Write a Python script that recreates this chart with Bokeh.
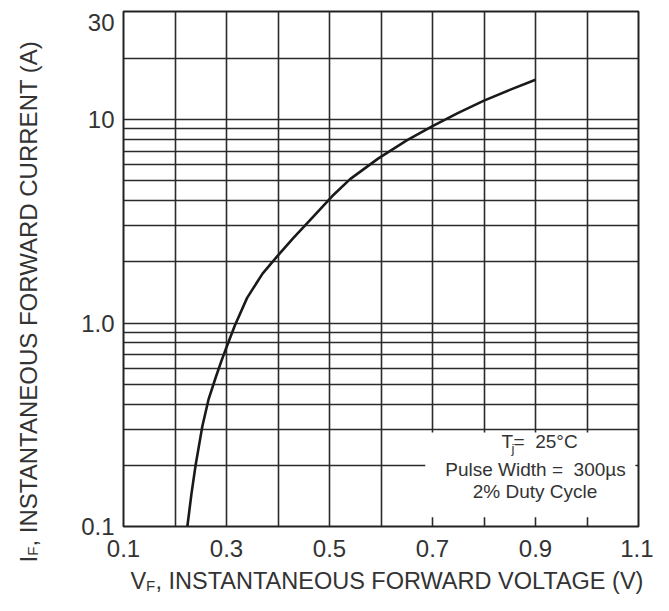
import math
from bokeh.plotting import figure
from bokeh.models import Range1d, FixedTicker, BoxAnnotation, Label
from bokeh.layouts import row, column
from bokeh.embed import file_html
from bokeh.resources import INLINE

# ---- data ----
vf = [0.224, 0.232, 0.240, 0.253, 0.265, 0.279, 0.290, 0.300, 0.316, 0.340,
      0.370, 0.400, 0.430, 0.460, 0.505, 0.540, 0.595, 0.650, 0.700, 0.750,
      0.800, 0.850, 0.900]
i_f = [0.10, 0.145, 0.20, 0.31, 0.42, 0.54, 0.65, 0.76, 0.97, 1.33,
       1.75, 2.15, 2.62, 3.16, 4.20, 5.10, 6.45, 7.90, 9.30, 10.8,
       12.4, 14.0, 15.7]

x_grid_vals = [0.1, 0.2, 0.3, 0.4, 0.5, 0.6, 0.7, 0.8, 0.9, 1.0, 1.1]
x_tick_vals = [0.1, 0.3, 0.5, 0.7, 0.9, 1.1]
x_tick_labels = ["0.1", "0.3", "0.5", "0.7", "0.9", "1.1"]
y_grid_vals = [0.1, 0.2, 0.3, 0.4, 0.5, 0.6, 0.7, 0.8, 0.9,
               1, 2, 3, 4, 5, 6, 7, 8, 9, 10, 20]
y_tick_vals = [0.1, 1, 10, 30]
y_tick_labels = ["0.1", "1.0", "10", "30"]

x_title = ", INSTANTANEOUS FORWARD VOLTAGE (V)"
y_title = ", INSTANTANEOUS FORWARD CURRENT (A)"
note_lines = ["=\u00a0 25°C", "Pulse Width =\u00a0 300µs", "2% Duty Cycle"]

FONT = "Liberation Sans"
TXT = "#333333"
GRID = "#2a2a2a"


def blank(w, h):
    f = figure(width=w, height=h, output_backend="svg", toolbar_location=None,
               x_axis_location=None, y_axis_location=None,
               x_range=Range1d(0, 1), y_range=Range1d(0, 1),
               min_border=0, min_border_left=0, min_border_right=0,
               min_border_top=0, min_border_bottom=0, frame_align=False)
    f.outline_line_color = None
    f.background_fill_color = "white"
    f.border_fill_color = "white"
    f.grid.visible = False
    return f


def lab(fig, text, x, y, size, align="left", angle=0.0):
    fig.add_layout(Label(x=x, y=y, x_units="screen", y_units="screen", text=text,
                         text_font=FONT, text_font_size=size, text_color=TXT,
                         text_align=align, text_baseline="alphabetic", angle=angle))


# ---- main chart ----
p = figure(width=610, height=566, output_backend="svg", toolbar_location=None,
           y_axis_type="log", x_range=Range1d(0.1, 1.1), y_range=Range1d(0.1, 34),
           min_border_left=80, min_border_right=15, min_border_top=11, min_border_bottom=40,
           frame_align=False)
p.background_fill_color = "white"
p.border_fill_color = "white"
p.outline_line_color = "#222222"
p.outline_line_width = 2

p.xgrid.ticker = FixedTicker(ticks=x_grid_vals)
p.ygrid.ticker = FixedTicker(ticks=y_grid_vals)
for g in (p.xgrid, p.ygrid):
    g.grid_line_color = GRID
    g.grid_line_width = 1.6
    g.minor_grid_line_color = None

p.xaxis.ticker = FixedTicker(ticks=x_tick_vals)
p.xaxis.major_label_overrides = {v: l for v, l in zip(x_tick_vals, x_tick_labels)}
p.yaxis.ticker = FixedTicker(ticks=y_tick_vals)
p.yaxis.major_label_overrides = {v: l for v, l in zip(y_tick_vals, y_tick_labels)}
for ax in (p.xaxis, p.yaxis):
    ax.axis_line_color = None
    ax.major_tick_line_color = None
    ax.minor_tick_line_color = None
    ax.major_tick_in = 0
    ax.major_tick_out = 0
    ax.minor_tick_in = 0
    ax.minor_tick_out = 0
    ax.major_label_text_font = FONT
    ax.major_label_text_font_size = "24px"
    ax.major_label_text_color = TXT
p.yaxis.major_label_standoff = 9
p.xaxis.major_label_standoff = 13

p.line(vf, i_f, line_color="#1a1a1a", line_width=2.6)

p.add_layout(BoxAnnotation(left=0.686, right=1.094, bottom=0.111, top=0.29,
                           fill_color="white", fill_alpha=1.0, line_color=None))

lab(p, "T", 378, 85, "19px")
lab(p, "j", 388, 78, "13px")
lab(p, note_lines[0], 390, 85, "19px")
lab(p, note_lines[1], 412, 57, "19px", "center")
lab(p, note_lines[2], 411.5, 35, "19px", "center")

# ---- left strip: y axis title ----
left = blank(43, 566)
a = math.pi / 2
lab(left, "I", 28, 4, "24px", angle=a)
lab(left, "F", 32, 10.7, "15px", angle=a)
lab(left, y_title, 28, 20, "24px", angle=a)

# ---- bottom strip: x axis title ----
bottom = blank(653, 29)
lab(bottom, "V", 130, 15, "23.5px")
lab(bottom, "F", 145.5, 10, "15px")
lab(bottom, x_title, 155, 15, "23.5px")

layout = column(row(left, p, spacing=0), bottom, spacing=0)
open("out.html", "w").write(file_html(layout, INLINE))
